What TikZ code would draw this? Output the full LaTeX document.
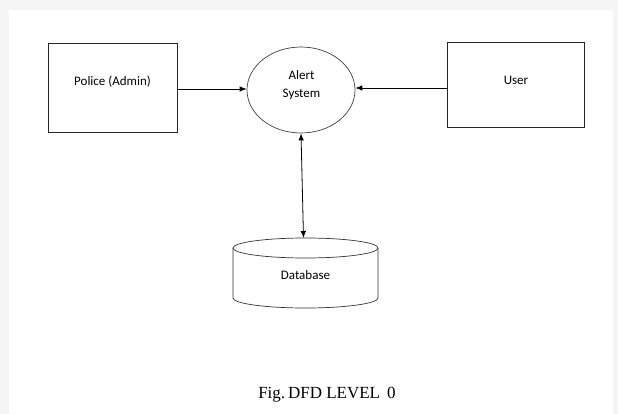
\documentclass[tikz,border=0pt]{standalone}
\usepackage{fontspec}
\setmainfont{Carlito}
\newfontfamily\capfont{Liberation Serif}
\usetikzlibrary{shapes.geometric,arrows.meta}
\definecolor{bggray}{HTML}{F5F5F5}
\tikzset{
  ent/.style={draw=black!85, line width=0.8pt, rectangle, font=\fontsize{13}{15}\selectfont},
  proc/.style={draw=black!75, line width=0.7pt, ellipse, minimum width=108pt, minimum height=86pt, inner sep=0pt, align=center},
  flow/.style={line width=0.8pt, -{Latex[length=7pt,width=5.5pt]}},
  biflow/.style={line width=0.8pt, {Latex[length=7pt,width=5.5pt]}-{Latex[length=7pt,width=5.5pt]}},
  store/.style={draw=black!80, line width=0.7pt},
  lbl/.style={font=\fontsize{13}{18}\selectfont, align=center, inner sep=0pt}
}
\begin{document}
\begin{tikzpicture}[x=1pt,y=-1pt]
\fill[bggray] (0,0) rectangle (618,414);
\fill[white] (9,10) rectangle (613,414);
\useasboundingbox (0,0) rectangle (618,414);

\node[ent, minimum width=129pt, minimum height=89pt] (pol) at (112.5,87.5) {};
\node[lbl] (poltxt) at (112.5,82) {Police (Admin)};
\node[ent, minimum width=137pt, minimum height=85pt] (user) at (515.5,84.5) {};
\node[lbl] (usertxt) at (516,80) {User};
\node[proc] (alert) at (301,90) {};
\node[lbl] (alerttxt) at (301.5,85) {Alert\\System};

% database
\node[lbl, minimum width=145pt, minimum height=70pt] (db) at (305.5,275) {Database};
\coordinate (dbtop) at (303.5,238);
\draw[store] (233,248) arc[start angle=180, end angle=-180, x radius=72.5pt, y radius=10pt];
\draw[store] (233,248) -- (233,298) arc[start angle=180, end angle=360, x radius=72.5pt, y radius=10pt] -- (378,248);

\draw[flow] (pol.east |- 0,89) -- (alert.west |- 0,89);
\draw[flow] (user.west |- 0,88) -- (alert.east |- 0,88);
\draw[biflow] (alert.south) -- (dbtop);

\node[font=\capfont\fontsize{17}{20}\selectfont] (cap) at (327,395) {Fig.\,DFD LEVEL\, 0};
\end{tikzpicture}
\end{document}
